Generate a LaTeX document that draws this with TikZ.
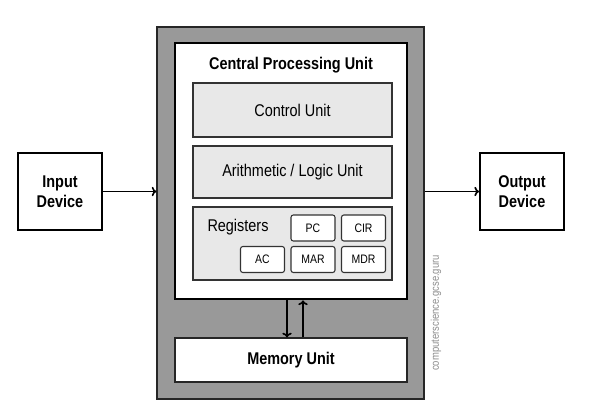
\documentclass[tikz,border=0pt]{standalone}
\usepackage{fontspec}
\setmainfont{Liberation Sans}[FakeStretch=0.85]
\usetikzlibrary{arrows.meta}

\begin{document}
\begin{tikzpicture}[x=0.03cm,y=-0.03cm,
		unitbox/.style={draw=black!80,line width=1pt,fill=black!9,minimum width=5.97cm,font=\fontsize{14.5}{17}\selectfont},
		regbox/.style={draw=black!80,line width=0.9pt,fill=white,rounded corners=2pt,minimum width=1.32cm,minimum height=0.78cm,font=\fontsize{10.5}{12}\selectfont},
		devbox/.style={draw=black,line width=1.6pt,fill=white,minimum width=2.52cm,minimum height=2.31cm,align=center,font=\fontsize{14.5}{17}\selectfont\bfseries},
		link/.style={-{To[length=4pt,width=8pt]},line width=1.4pt,black}]
	\useasboundingbox (0,0) rectangle (592,413);
	% computer case
	\node[draw=black!85,line width=1pt,fill=black!40,minimum width=8.01cm,minimum height=11.16cm] (computer) at (290.5,213) {};
	\node[draw=black,line width=2.4pt,fill=white,minimum width=6.96cm,minimum height=7.68cm] (cpu) at (291,171) {};
	\node[font=\fontsize{14.5}{17}\selectfont\bfseries] (cputitle) at (291,65) {Central Processing Unit};
	\node[unitbox,minimum height=1.62cm] (control) at (292.5,110) {Control Unit};
	\node[unitbox,minimum height=1.56cm] (alu) at (292.5,172) {Arithmetic / Logic Unit};
	\node[unitbox,minimum height=2.19cm] (registers) at (292.5,243.5) {};
	\node[font=\fontsize{14.5}{17}\selectfont] (reglabel) at (238,227) {Registers};
	% registers
	\node[regbox] (pc) at (313,228) {PC};
	\node[regbox] (cir) at (363.5,228) {CIR};
	\node[regbox] (ac) at (262.5,259.5) {AC};
	\node[regbox] (mar) at (313,259.5) {MAR};
	\node[regbox] (mdr) at (363.5,259.5) {MDR};
	% memory
	\node[draw=black!85,line width=1pt,fill=white,minimum width=6.96cm,minimum height=1.32cm,font=\fontsize{14.5}{17}\selectfont\bfseries] (memory) at (291,360) {Memory Unit};
	\draw[link] ([xshift=-0.12cm]cpu.south) -- ([xshift=-0.12cm]memory.north);
	\draw[link] ([xshift=0.36cm]memory.north) -- ([xshift=0.36cm]cpu.south);
	% devices
	\node[devbox] (input) at (60,191.5) {Input\\Device};
	\node[devbox] (output) at (522,191.5) {Output\\Device};
	\draw[link] (input.east) -- (input.east -| computer.west);
	\draw[link] (computer.east |- output.west) -- (output.west);
	\node[rotate=90,text=black!45,font=\fontsize{9.5}{11}\selectfont] (site) at (436,313) {computerscience.gcse.guru};
\end{tikzpicture}
\end{document}
